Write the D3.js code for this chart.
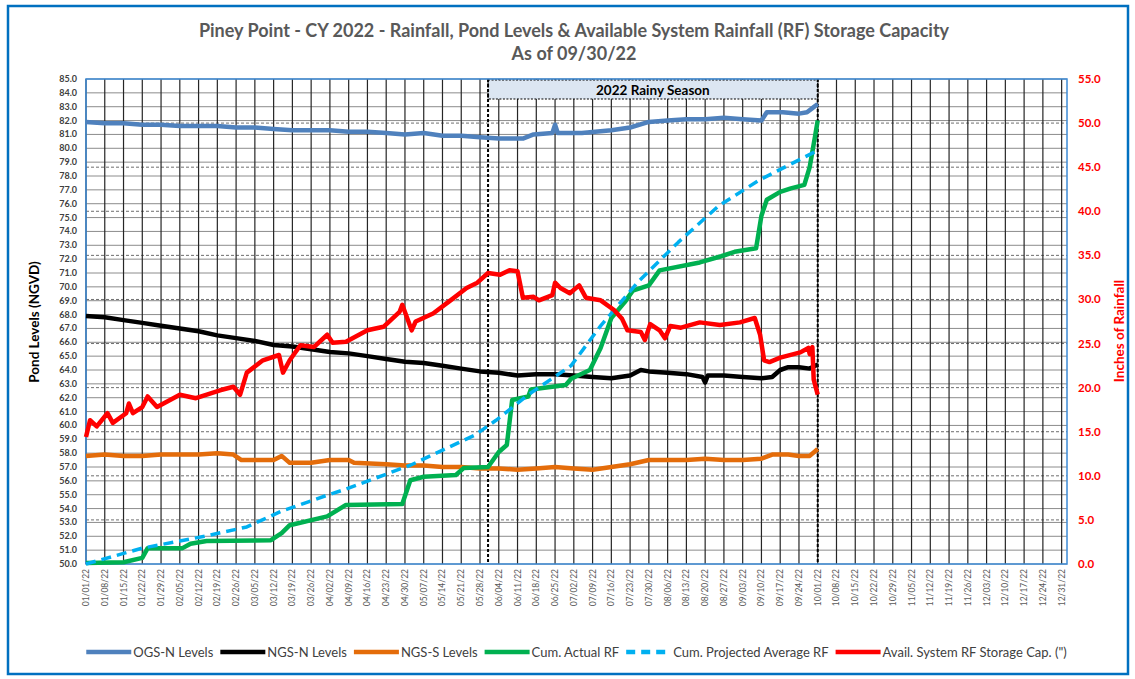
<!DOCTYPE html>
<meta charset="utf-8">
<head>
<style>
  body { margin: 0; background: #fff; font-family: Lato, "Open Sans", sans-serif; }
  svg text { font-family: Lato, "Open Sans", sans-serif; }
</style>
<script src="https://d3js.org/d3.v7.min.js"></script>
</head>
<body>
<div id="chart"></div>
<script>
// ---- data (day = days since 01/01/22) ----
var ogsDays = [0,7,14,21,28,35,42,49,56,63,70,77,84,91,98,105,112,119,126,133,140,147,154,161,163,167,174,175,176,185,196,203,210,217,224,231,238,245,252,254,260,266,269,271,273];
var ogsVals = [81.9,81.8,81.8,81.7,81.7,81.6,81.6,81.6,81.5,81.5,81.4,81.3,81.3,81.3,81.2,81.2,81.1,81.0,81.1,80.9,80.9,80.8,80.7,80.7,80.7,81.0,81.1,81.7,81.1,81.1,81.3,81.5,81.9,82.0,82.1,82.1,82.2,82.1,82.0,82.6,82.6,82.5,82.6,82.9,83.2];

var ngsnDays = [0,7,14,21,28,35,42,49,56,63,70,77,84,91,98,105,112,119,126,133,140,147,154,161,168,175,182,189,196,203,207,210,217,224,230,231,232,238,245,252,256,259,262,266,270,273];
var ngsnVals = [67.9,67.8,67.6,67.4,67.2,67.0,66.8,66.5,66.3,66.1,65.8,65.7,65.5,65.3,65.2,65.0,64.8,64.6,64.5,64.3,64.1,63.9,63.8,63.6,63.7,63.7,63.6,63.5,63.4,63.6,64.0,63.9,63.8,63.7,63.5,63.1,63.6,63.6,63.5,63.4,63.5,64.0,64.2,64.2,64.1,64.4];

var ngssDays = [0,7,14,21,28,35,42,49,55,58,63,70,73,76,84,91,98,100,112,119,126,133,140,147,154,161,168,175,182,189,196,203,210,217,224,231,238,245,252,256,262,266,270,273];
var ngssVals = [57.8,57.9,57.8,57.8,57.9,57.9,57.9,58.0,57.9,57.5,57.5,57.5,57.8,57.3,57.3,57.5,57.5,57.3,57.2,57.1,57.1,57.0,57.0,56.9,56.9,56.8,56.9,57.0,56.9,56.8,57.0,57.2,57.5,57.5,57.5,57.6,57.5,57.5,57.6,57.9,57.9,57.8,57.8,58.3];

var actDays = [0,14,21,23,36,39,45,69,73,76,90,97,118,121,126,138,141,150,154,157,159,165,166,179,181,188,192,196,201,204,210,214,229,237,242,250,252,254,259,263,268,270,272,273];
var actVals = [0.1,0.2,0.7,1.8,1.8,2.3,2.6,2.7,3.5,4.4,5.4,6.7,6.8,9.5,9.9,10.1,10.9,11.0,12.7,13.5,18.6,19.0,19.8,20.3,21.0,22.0,24.5,27.9,29.7,31.0,31.6,33.3,34.2,34.9,35.4,35.8,39.5,41.3,42.2,42.6,43.0,45.0,48.5,50.3];

var projDays = [0,14,21,35,45,60,73,90,97,121,145,153,165,181,192,206,221,236,251,262,273];
var projVals = [0.0,1.2,1.8,2.6,3.2,4.2,6.0,7.8,8.5,11.2,14.6,16.3,19.2,22.5,27.0,32.0,36.5,40.6,43.5,45.2,46.9];

var capDays = [0,1.5,4,8,10,15,16,17.5,21,23,26.5,35,41,50,55,57.5,60,66,72,73.5,76,80,85,90,92,97,105,111,117,118,121.5,123,129.5,136,142,146,150,154.5,158,161,163,167,169,174,175,177,180.5,184,186.5,192,197,200,202,207,208.5,210.5,214,216,218,222,229,236.5,244,249.5,251.5,253,255,259,266.5,269.5,270,271,271.5,273];
var capVals = [14.4,16.3,15.6,17.1,16.0,17.1,18.2,17.1,17.8,19.0,17.8,19.2,18.8,19.7,20.1,19.2,21.7,23.1,23.7,21.7,23.1,24.8,24.6,26.0,25.1,25.2,26.5,26.9,28.6,29.4,26.5,27.5,28.4,29.9,31.3,31.9,33.0,32.8,33.3,33.2,30.2,30.3,29.9,30.5,31.9,31.3,30.7,31.6,30.2,29.9,28.8,27.8,26.5,26.3,25.4,27.2,26.5,25.6,27.0,26.8,27.4,27.1,27.4,27.9,26.0,23.1,22.9,23.4,24.0,24.5,23.8,24.6,20.9,19.2];

var seriesNames = ["OGS-N Levels", "NGS-N Levels", "NGS-S Levels", "Cum. Actual RF", "Cum. Projected Average RF", "Avail. System RF Storage Cap. (\")"];
var seriesColors = ["#4f81bd", "#000000", "#e46c0a", "#00b050", "#00b0f0", "#ff0000"];

var leftTicks = d3.range(50, 85.01, 1);
var rightTicks = d3.range(0, 55.01, 5);
var rainyStart = 150, rainyEnd = 273;

// ---- layout ----
var W = 1135, H = 679;
var start = new Date(2022, 0, 1);
function toDate(d) { return new Date(start.getTime() + d * 86400000); }

var x = d3.scaleTime().domain([start, new Date(2023, 0, 2)]).range([86, 1067]);
var yL = d3.scaleLinear().domain([50, 85]).range([564, 79]);
var yR = d3.scaleLinear().domain([0, 55]).range([564, 79]);

var svg = d3.select("#chart").append("svg").attr("width", W).attr("height", H);

svg.append("rect").attr("x", 8).attr("y", 6).attr("width", 1120).attr("height", 668)
    .attr("fill", "#fff").attr("stroke", "#0070c0").attr("stroke-width", 2.5);

// title
svg.append("text").attr("x", 574).attr("y", 37).attr("text-anchor", "middle")
    .attr("font-size", 18).attr("font-weight", "bold").attr("fill", "#595959")
    .text("Piney Point - CY 2022 - Rainfall, Pond Levels & Available System Rainfall (RF) Storage Capacity");
svg.append("text").attr("x", 574).attr("y", 60).attr("text-anchor", "middle")
    .attr("font-size", 18).attr("font-weight", "bold").attr("fill", "#595959")
    .text("As of 09/30/22");

// grid
var grid = svg.append("g");
grid.selectAll(".hl").data(leftTicks).enter().append("line")
    .attr("x1", 86).attr("x2", 1067).attr("y1", d => yL(d)).attr("y2", d => yL(d))
    .attr("stroke", "#8c8c8c").attr("stroke-width", 1);
grid.selectAll(".hr").data(rightTicks.slice(1, -1)).enter().append("line")
    .attr("x1", 86).attr("x2", 1067).attr("y1", d => yR(d)).attr("y2", d => yR(d))
    .attr("stroke", "#6e6e6e").attr("stroke-width", 1).attr("stroke-dasharray", "3,2");

var weeks = d3.timeSaturday.range(start, new Date(2023, 0, 1));
grid.selectAll(".vl").data(weeks).enter().append("line")
    .attr("x1", d => x(d)).attr("x2", d => x(d)).attr("y1", 79).attr("y2", 564)
    .attr("stroke", "#262626").attr("stroke-width", 1.2);

// rainy season
var rx0 = x(toDate(rainyStart)), rx1 = x(toDate(rainyEnd));
svg.append("rect").attr("x", rx0).attr("y", 80).attr("width", rx1 - rx0).attr("height", 19)
    .attr("fill", "#dce6f2").attr("stroke", "#000").attr("stroke-width", 1.2).attr("stroke-dasharray", "2,1.5");
svg.append("text").attr("x", (rx0 + rx1) / 2).attr("y", 95).attr("text-anchor", "middle")
    .attr("font-size", 13.5).attr("font-weight", "bold").attr("fill", "#000").text("2022 Rainy Season");
[rx0, rx1].forEach(function (px) {
    svg.append("line").attr("x1", px).attr("x2", px).attr("y1", 79).attr("y2", 564)
        .attr("stroke", "#000").attr("stroke-width", 2).attr("stroke-dasharray", "3,2");
});

// plot border
svg.append("rect").attr("x", 86).attr("y", 79).attr("width", 981).attr("height", 485)
    .attr("fill", "none").attr("stroke", "#3d8bd6").attr("stroke-width", 1.5);

// axes labels
svg.append("g").selectAll("text").data(leftTicks).enter().append("text")
    .attr("x", 77).attr("y", d => yL(d) + 3).attr("text-anchor", "end")
    .attr("font-size", 9).attr("font-weight", "bold").attr("fill", "#404040")
    .text(d => d.toFixed(1));
svg.append("g").selectAll("text").data(rightTicks).enter().append("text")
    .attr("x", 1078).attr("y", d => yR(d) + 4).attr("text-anchor", "start")
    .attr("font-size", 11.5).attr("font-weight", "bold").attr("fill", "#ff0000")
    .text(d => d.toFixed(1));
var fmt = d3.timeFormat("%m/%d/%y");
svg.append("g").selectAll("text").data(weeks).enter().append("text")
    .attr("transform", d => "translate(" + (x(d) + 3) + ",569) rotate(-90)")
    .attr("text-anchor", "end").attr("font-size", 8.5).attr("fill", "#595959")
    .text(d => fmt(d));

svg.append("text").attr("transform", "translate(39,322) rotate(-90)").attr("text-anchor", "middle")
    .attr("font-size", 13.5).attr("font-weight", "bold").attr("fill", "#000").text("Pond Levels (NGVD)");
svg.append("text").attr("transform", "translate(1124,331) rotate(-90)").attr("text-anchor", "middle")
    .attr("font-size", 13.5).attr("font-weight", "bold").attr("fill", "#ff0000").text("Inches of Rainfall");

// series
var series = [
    { days: ogsDays, vals: ogsVals, y: yL },
    { days: ngsnDays, vals: ngsnVals, y: yL },
    { days: ngssDays, vals: ngssVals, y: yL },
    { days: actDays, vals: actVals, y: yR },
    { days: projDays, vals: projVals, y: yR, dash: "10,6" },
    { days: capDays, vals: capVals, y: yR }
];
series.forEach(function (s, i) {
    var pts = s.days.map((d, j) => [toDate(d), s.vals[j]]);
    var line = d3.line().x(p => x(p[0])).y(p => s.y(p[1]));
    svg.append("path").datum(pts).attr("d", line)
        .attr("fill", "none").attr("stroke", seriesColors[i])
        .attr("stroke-width", i == 4 ? 3.5 : 4.5)
        .attr("stroke-linejoin", "round")
        .attr("stroke-dasharray", s.dash || null);
});

// legend
var leg = svg.append("g");
var lx = 0;
seriesNames.forEach(function (name, i) {
    var g = leg.append("g").attr("transform", "translate(" + lx + ",0)");
    g.append("line").attr("x1", 0).attr("x2", 45).attr("y1", 0).attr("y2", 0)
        .attr("stroke", seriesColors[i]).attr("stroke-width", 4.5)
        .attr("stroke-dasharray", i == 4 ? "9,6" : null);
    var t = g.append("text").attr("x", 47).attr("y", 4.5).attr("font-size", 13).attr("fill", "#404040").text(name);
    lx += 47 + t.node().getComputedTextLength() + 7;
});
leg.attr("transform", "translate(" + (580 - lx / 2) + ",652)");
</script>
</body>
